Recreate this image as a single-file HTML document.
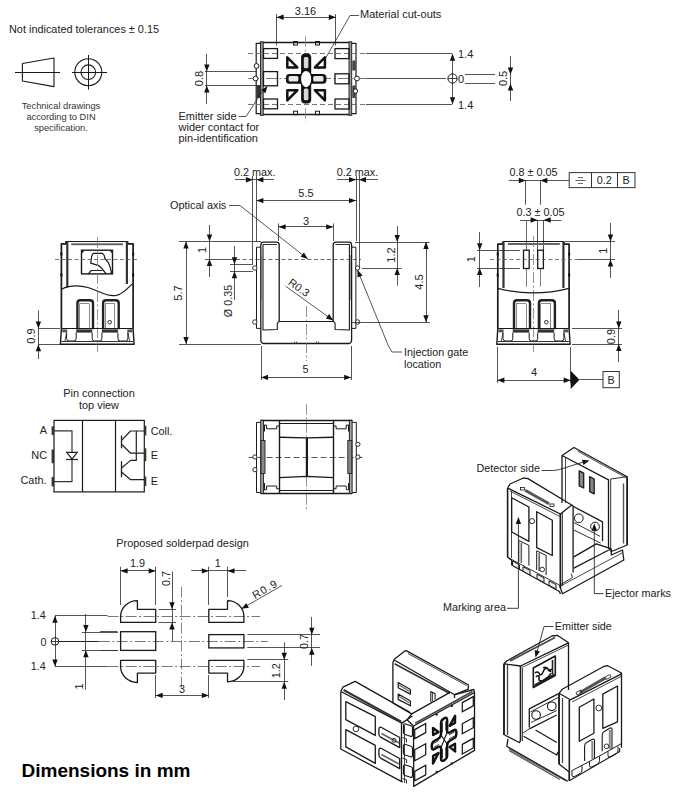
<!DOCTYPE html>
<html><head><meta charset="utf-8"><style>
html,body{margin:0;padding:0;background:#fff;}
svg{display:block;font-family:"Liberation Sans",sans-serif;}
</style></head><body>
<svg width="684" height="800" viewBox="0 0 684 800">
<rect width="684" height="800" fill="#fff"/>
<text x="9.00" y="33.00" font-size="10.9" text-anchor="start" fill="#222" font-weight="normal">Not indicated tolerances ± 0.15</text>
<polygon points="22.40,63.50 54.00,58.00 54.00,86.60 22.40,81.00" stroke="#1a1a1a" stroke-width="1.1" fill="none" stroke-linejoin="round"/>
<line x1="15.00" y1="72.50" x2="60.00" y2="72.50" stroke="#1a1a1a" stroke-width="1.0"/>
<circle cx="88.30" cy="72.20" r="13.50" stroke="#1a1a1a" stroke-width="1.1" fill="none"/>
<circle cx="88.30" cy="72.20" r="7.30" stroke="#1a1a1a" stroke-width="1.1" fill="none"/>
<line x1="72.00" y1="72.50" x2="107.00" y2="72.50" stroke="#1a1a1a" stroke-width="1.0"/>
<line x1="88.50" y1="55.00" x2="88.50" y2="89.60" stroke="#1a1a1a" stroke-width="1.0"/>
<text x="61.00" y="109.00" font-size="9.3" text-anchor="middle" fill="#333" font-weight="normal">Technical drawings</text>
<text x="61.00" y="120.00" font-size="9.3" text-anchor="middle" fill="#333" font-weight="normal">according to DIN</text>
<text x="61.00" y="131.00" font-size="9.3" text-anchor="middle" fill="#333" font-weight="normal">specification.</text>
<line x1="276.50" y1="14.00" x2="276.50" y2="45.50" stroke="#2a2a2a" stroke-width="0.8"/>
<line x1="335.50" y1="14.00" x2="335.50" y2="45.50" stroke="#2a2a2a" stroke-width="0.8"/>
<line x1="276.60" y1="17.50" x2="335.80" y2="17.50" stroke="#2a2a2a" stroke-width="0.8"/>
<polygon points="276.60,17.20 283.60,14.50 283.60,19.90" fill="#111"/>
<polygon points="335.80,17.20 328.80,19.90 328.80,14.50" fill="#111"/>
<text x="305.50" y="15.00" font-size="11" text-anchor="middle" fill="#222" font-weight="normal">3.16</text>
<text x="360.00" y="18.40" font-size="11" text-anchor="start" fill="#222" font-weight="normal">Material cut-outs</text>
<polyline points="359.00,15.50 350.00,15.50 320.00,68.00" stroke="#2a2a2a" stroke-width="0.8" fill="none" stroke-linejoin="round"/>
<polygon points="318.50,69.50 319.72,62.10 324.38,64.84" fill="#111"/>
<line x1="260.50" y1="42.50" x2="350.70" y2="42.50" stroke="#1a1a1a" stroke-width="1.3"/>
<line x1="260.50" y1="114.50" x2="350.70" y2="114.50" stroke="#1a1a1a" stroke-width="1.3"/>
<rect x="260.50" y="41.80" width="2.70" height="73.50" rx="0" stroke="#1a1a1a" stroke-width="0.9" fill="#999"/>
<polyline points="260.50,43.30 256.20,43.30 256.20,113.70 260.50,113.70" stroke="#1a1a1a" stroke-width="1.2" fill="none" stroke-linejoin="round"/>
<rect x="349.00" y="41.80" width="2.70" height="73.50" rx="0" stroke="#1a1a1a" stroke-width="0.9" fill="#999"/>
<polyline points="351.70,43.30 356.00,43.30 356.00,113.70 351.70,113.70" stroke="#1a1a1a" stroke-width="1.2" fill="none" stroke-linejoin="round"/>
<rect x="256.60" y="85.00" width="3.60" height="13.00" rx="0" stroke="#1a1a1a" stroke-width="0" fill="#333"/>
<rect x="352.30" y="60.50" width="3.20" height="10.00" rx="0" stroke="#1a1a1a" stroke-width="0" fill="#444"/>
<rect x="352.30" y="85.50" width="3.20" height="12.50" rx="0" stroke="#1a1a1a" stroke-width="0" fill="#444"/>
<line x1="248.00" y1="53.50" x2="366.00" y2="53.50" stroke="#666" stroke-width="0.9" stroke-dasharray="5 3"/>
<line x1="248.00" y1="104.50" x2="366.00" y2="104.50" stroke="#666" stroke-width="0.9" stroke-dasharray="5 3"/>
<line x1="248.00" y1="78.50" x2="366.00" y2="78.50" stroke="#666" stroke-width="0.9" stroke-dasharray="11 2.5 2 2.5"/>
<line x1="305.50" y1="36.00" x2="305.50" y2="122.00" stroke="#888" stroke-width="0.8" stroke-dasharray="11 2.5 2 2.5"/>
<rect x="263.50" y="48.60" width="14.00" height="9.80" rx="0" stroke="#1a1a1a" stroke-width="1.3" fill="none"/>
<rect x="263.50" y="71.60" width="14.00" height="14.20" rx="0" stroke="#1a1a1a" stroke-width="1.3" fill="none"/>
<rect x="263.50" y="99.00" width="14.00" height="9.80" rx="0" stroke="#1a1a1a" stroke-width="1.3" fill="none"/>
<rect x="335.00" y="48.60" width="14.00" height="10.00" rx="0" stroke="#1a1a1a" stroke-width="1.3" fill="none"/>
<rect x="335.00" y="73.80" width="14.00" height="10.00" rx="0" stroke="#1a1a1a" stroke-width="1.3" fill="none"/>
<rect x="335.00" y="99.00" width="14.00" height="10.00" rx="0" stroke="#1a1a1a" stroke-width="1.3" fill="none"/>
<rect x="293.50" y="41.50" width="4.00" height="3.50" rx="0" stroke="#1a1a1a" stroke-width="1.0" fill="none"/>
<rect x="293.50" y="111.20" width="4.00" height="3.50" rx="0" stroke="#1a1a1a" stroke-width="1.0" fill="none"/>
<rect x="315.50" y="41.50" width="4.00" height="3.50" rx="0" stroke="#1a1a1a" stroke-width="1.0" fill="none"/>
<rect x="315.50" y="111.20" width="4.00" height="3.50" rx="0" stroke="#1a1a1a" stroke-width="1.0" fill="none"/>
<rect x="301.1" y="53.4" width="10.1" height="50.2" rx="4" fill="#111"/>
<rect x="285.9" y="74" width="40.5" height="9.8" rx="3.5" fill="#111"/>
<ellipse cx="306.1" cy="78.9" rx="6.4" ry="9.6" fill="#111"/>
<rect x="303.8" y="57" width="4.6" height="11.3" rx="1.5" fill="#d8d8d8"/>
<rect x="303.8" y="88.6" width="4.6" height="11.6" rx="1.5" fill="#d8d8d8"/>
<rect x="288.6" y="76.1" width="9.8" height="5.4" rx="1.5" fill="#e8e8e8"/>
<rect x="313.2" y="76.1" width="10.3" height="5.4" rx="1.5" fill="#e8e8e8"/>
<ellipse cx="306.1" cy="79.1" rx="5.1" ry="8.1" fill="#fff"/>
<polygon points="287.30,57.30 287.30,67.40 297.30,67.40" stroke="#111" stroke-width="2.5" fill="#fff" stroke-linejoin="round"/>
<polygon points="324.90,57.30 324.90,67.40 314.90,67.40" stroke="#111" stroke-width="2.5" fill="#fff" stroke-linejoin="round"/>
<polygon points="287.30,100.40 287.30,90.30 297.30,90.30" stroke="#111" stroke-width="2.5" fill="#fff" stroke-linejoin="round"/>
<polygon points="324.90,100.40 324.90,90.30 314.90,90.30" stroke="#111" stroke-width="2.5" fill="#fff" stroke-linejoin="round"/>
<circle cx="256.50" cy="66.00" r="2.40" stroke="#1a1a1a" stroke-width="1.0" fill="#fff"/>
<circle cx="255.60" cy="78.50" r="2.40" stroke="#1a1a1a" stroke-width="1.0" fill="#fff"/>
<circle cx="357.00" cy="78.50" r="2.40" stroke="#1a1a1a" stroke-width="1.0" fill="#fff"/>
<circle cx="355.40" cy="91.10" r="2.20" stroke="#1a1a1a" stroke-width="1.0" fill="#fff"/>
<line x1="205.00" y1="71.50" x2="256.30" y2="71.50" stroke="#2a2a2a" stroke-width="0.8"/>
<line x1="205.00" y1="85.50" x2="256.30" y2="85.50" stroke="#2a2a2a" stroke-width="0.8"/>
<line x1="206.50" y1="53.70" x2="206.50" y2="104.10" stroke="#2a2a2a" stroke-width="0.8"/>
<polygon points="206.80,71.60 204.10,64.60 209.50,64.60" fill="#111"/>
<polygon points="206.80,85.50 209.50,92.50 204.10,92.50" fill="#111"/>
<text x="202.50" y="78.50" font-size="11" text-anchor="middle" fill="#222" font-weight="normal" transform="rotate(-90 202.50 78.50)">0.8</text>
<text x="178.50" y="119.60" font-size="11" text-anchor="start" fill="#222" font-weight="normal">Emitter side</text>
<text x="178.50" y="130.70" font-size="11" text-anchor="start" fill="#222" font-weight="normal">wider contact for</text>
<text x="178.50" y="141.80" font-size="11" text-anchor="start" fill="#222" font-weight="normal">pin-identification</text>
<polyline points="238.70,116.50 246.00,116.50 262.00,92.00" stroke="#2a2a2a" stroke-width="0.8" fill="none" stroke-linejoin="round"/>
<polygon points="267.50,86.00 265.46,93.22 261.14,89.98" fill="#111"/>
<line x1="366.00" y1="53.50" x2="452.00" y2="53.50" stroke="#2a2a2a" stroke-width="0.8"/>
<line x1="366.00" y1="104.50" x2="452.00" y2="104.50" stroke="#2a2a2a" stroke-width="0.8"/>
<line x1="366.00" y1="78.50" x2="446.00" y2="78.50" stroke="#2a2a2a" stroke-width="0.8"/>
<line x1="452.50" y1="53.80" x2="452.50" y2="104.20" stroke="#2a2a2a" stroke-width="0.8"/>
<polygon points="452.50,53.80 455.20,60.80 449.80,60.80" fill="#111"/>
<polygon points="452.50,104.20 449.80,97.20 455.20,97.20" fill="#111"/>
<circle cx="452.50" cy="78.50" r="4.60" stroke="#1a1a1a" stroke-width="1.0" fill="#fff"/>
<line x1="447.90" y1="78.50" x2="457.10" y2="78.50" stroke="#1a1a1a" stroke-width="0.8"/>
<line x1="452.50" y1="73.90" x2="452.50" y2="83.10" stroke="#1a1a1a" stroke-width="0.8"/>
<text x="458.00" y="58.00" font-size="11" text-anchor="start" fill="#222" font-weight="normal">1.4</text>
<text x="458.00" y="108.50" font-size="11" text-anchor="start" fill="#222" font-weight="normal">1.4</text>
<text x="458.00" y="82.50" font-size="11" text-anchor="start" fill="#222" font-weight="normal">0</text>
<line x1="465.00" y1="74.50" x2="495.00" y2="74.50" stroke="#2a2a2a" stroke-width="0.8"/>
<line x1="465.00" y1="83.50" x2="495.00" y2="83.50" stroke="#2a2a2a" stroke-width="0.8"/>
<line x1="510.50" y1="56.00" x2="510.50" y2="101.00" stroke="#2a2a2a" stroke-width="0.8"/>
<polygon points="510.50,74.50 507.80,67.50 513.20,67.50" fill="#111"/>
<polygon points="510.50,83.50 513.20,90.50 507.80,90.50" fill="#111"/>
<text x="507.00" y="78.40" font-size="11" text-anchor="middle" fill="#222" font-weight="normal" transform="rotate(-90 507.00 78.40)">0.5</text>
<line x1="66.00" y1="241.50" x2="127.50" y2="241.50" stroke="#1a1a1a" stroke-width="1.2"/>
<line x1="71.20" y1="244.20" x2="123.00" y2="244.20" stroke="#666" stroke-width="2.0"/>
<polyline points="66.00,241.00 66.00,243.90 61.40,243.90 61.40,328.40" stroke="#1a1a1a" stroke-width="1.7" fill="none" stroke-linejoin="round"/>
<polyline points="127.50,241.00 127.50,243.90 133.10,243.90 133.10,328.40" stroke="#1a1a1a" stroke-width="1.7" fill="none" stroke-linejoin="round"/>
<line x1="67.30" y1="241.00" x2="67.30" y2="287.50" stroke="#333" stroke-width="2.2"/>
<line x1="126.90" y1="241.00" x2="126.90" y2="284.00" stroke="#333" stroke-width="2.2"/>
<line x1="61.40" y1="252.50" x2="61.40" y2="255.50" stroke="#1a1a1a" stroke-width="2.2"/>
<line x1="133.10" y1="252.50" x2="133.10" y2="255.50" stroke="#1a1a1a" stroke-width="2.2"/>
<line x1="61.40" y1="273.50" x2="61.40" y2="276.50" stroke="#1a1a1a" stroke-width="2.2"/>
<line x1="133.10" y1="273.50" x2="133.10" y2="276.50" stroke="#1a1a1a" stroke-width="2.2"/>
<rect x="81.50" y="250.20" width="31.00" height="23.70" rx="0" stroke="#1a1a1a" stroke-width="1.4" fill="none"/>
<polygon points="81.5,250.2 85.0,250.2 81.5,253.7" fill="#222"/>
<polygon points="112.5,250.2 109.0,250.2 112.5,253.7" fill="#222"/>
<polygon points="112.5,273.9 109.0,273.9 112.5,270.4" fill="#222"/>
<path d="M112.2,273.2 L111,270.8 L110.1,267.1 L108.5,262.8 L104.9,258.5 L104.2,255.4 L102.4,253.3 H93.2 L91.7,256 L90.7,263.1 L98.1,265.3 L101.8,268.3 L106.1,273.9" stroke="#1a1a1a" stroke-width="1.2" fill="none" stroke-linejoin="round" />
<path d="M88.3,273.9 L91.3,270.5 H102.4" stroke="#1a1a1a" stroke-width="1.2" fill="none" stroke-linejoin="round" />
<path d="M61.6,289.2 C70,285 78,285 88,287.5 C100,291 106,297 116,295.5 C124,294 128,287 133.1,283.4" stroke="#1a1a1a" stroke-width="1.2" fill="none" stroke-linejoin="round" />
<line x1="55.00" y1="259.50" x2="139.00" y2="259.50" stroke="#555" stroke-width="0.8" stroke-dasharray="4 2.5"/>
<line x1="97.50" y1="237.00" x2="97.50" y2="352.00" stroke="#777" stroke-width="0.8" stroke-dasharray="11 2.5 2 2.5"/>
<path d="M77.4,329.2 V303.2 q0,-3 3,-3 h9.6 q3,0 3,3 V329.2" stroke="#222" stroke-width="2.4" fill="none" stroke-linejoin="round" />
<line x1="79.50" y1="303.70" x2="79.50" y2="329.20" stroke="#555" stroke-width="0.7"/>
<line x1="89.50" y1="303.70" x2="89.50" y2="329.20" stroke="#555" stroke-width="0.7"/>
<line x1="79.40" y1="303.50" x2="89.00" y2="303.50" stroke="#555" stroke-width="0.7"/>
<path d="M103.10000000000001,329.2 V303.2 q0,-3 3,-3 h9.6 q3,0 3,3 V329.2" stroke="#222" stroke-width="2.4" fill="none" stroke-linejoin="round" />
<line x1="105.50" y1="303.70" x2="105.50" y2="329.20" stroke="#555" stroke-width="0.7"/>
<line x1="114.50" y1="303.70" x2="114.50" y2="329.20" stroke="#555" stroke-width="0.7"/>
<line x1="105.10" y1="303.50" x2="114.70" y2="303.50" stroke="#555" stroke-width="0.7"/>
<circle cx="109.70" cy="322.20" r="1.80" stroke="#1a1a1a" stroke-width="0.9" fill="none"/>
<line x1="61.40" y1="328.50" x2="133.10" y2="328.50" stroke="#1a1a1a" stroke-width="1.0"/>
<rect x="62.20" y="329.40" width="5.00" height="3.00" rx="0" stroke="#1a1a1a" stroke-width="0" fill="#555"/>
<rect x="127.30" y="329.40" width="5.00" height="3.00" rx="0" stroke="#1a1a1a" stroke-width="0" fill="#555"/>
<rect x="76.20" y="329.40" width="16.00" height="3.20" rx="0" stroke="#1a1a1a" stroke-width="0" fill="#333"/>
<rect x="101.90" y="329.40" width="16.00" height="3.20" rx="0" stroke="#1a1a1a" stroke-width="0" fill="#333"/>
<path d="M66.6,332.6 V338.6 q0,2.4 2.4,2.4 H73.8 q2.4,0 2.4,-2.4 V332.6" stroke="#1a1a1a" stroke-width="1.0" fill="none" stroke-linejoin="round" />
<path d="M92.2,332.6 V338.6 q0,2.4 2.4,2.4 H99.5 q2.4,0 2.4,-2.4 V332.6" stroke="#1a1a1a" stroke-width="1.0" fill="none" stroke-linejoin="round" />
<path d="M117.9,332.6 V338.6 q0,2.4 2.4,2.4 H125.49999999999999 q2.4,0 2.4,-2.4 V332.6" stroke="#1a1a1a" stroke-width="1.0" fill="none" stroke-linejoin="round" />
<polyline points="61.40,328.40 60.40,344.20 134.10,344.20 133.10,328.40" stroke="#1a1a1a" stroke-width="1.4" fill="none" stroke-linejoin="round"/>
<line x1="61.40" y1="341.50" x2="133.10" y2="341.50" stroke="#333" stroke-width="1.0"/>
<polyline points="66.60,332.60 64.90,341.00" stroke="#1a1a1a" stroke-width="0.8" fill="none" stroke-linejoin="round"/>
<polyline points="127.90,332.60 129.60,341.00" stroke="#1a1a1a" stroke-width="0.8" fill="none" stroke-linejoin="round"/>
<line x1="38.00" y1="328.50" x2="60.00" y2="328.50" stroke="#2a2a2a" stroke-width="0.8"/>
<line x1="38.00" y1="344.50" x2="60.00" y2="344.50" stroke="#2a2a2a" stroke-width="0.8"/>
<line x1="38.50" y1="310.40" x2="38.50" y2="359.00" stroke="#2a2a2a" stroke-width="0.8"/>
<polygon points="38.40,328.50 35.70,321.50 41.10,321.50" fill="#111"/>
<polygon points="38.40,344.20 41.10,351.20 35.70,351.20" fill="#111"/>
<text x="35.00" y="336.00" font-size="11" text-anchor="middle" fill="#222" font-weight="normal" transform="rotate(-90 35.00 336.00)">0.9</text>
<text x="234.00" y="176.00" font-size="10.8" text-anchor="start" fill="#222" font-weight="normal">0.2 max.</text>
<text x="336.80" y="176.00" font-size="10.8" text-anchor="start" fill="#222" font-weight="normal">0.2 max.</text>
<line x1="235.00" y1="179.50" x2="274.00" y2="179.50" stroke="#2a2a2a" stroke-width="0.8"/>
<polygon points="252.90,179.80 245.90,182.50 245.90,177.10" fill="#111"/>
<polygon points="256.40,179.80 263.40,177.10 263.40,182.50" fill="#111"/>
<line x1="337.00" y1="179.50" x2="378.00" y2="179.50" stroke="#2a2a2a" stroke-width="0.8"/>
<polygon points="356.00,179.80 349.00,182.50 349.00,177.10" fill="#111"/>
<polygon points="359.00,179.80 366.00,177.10 366.00,182.50" fill="#111"/>
<line x1="252.50" y1="176.00" x2="252.50" y2="264.30" stroke="#2a2a2a" stroke-width="0.8"/>
<line x1="256.50" y1="176.00" x2="256.50" y2="241.50" stroke="#2a2a2a" stroke-width="0.8"/>
<line x1="356.50" y1="176.00" x2="356.50" y2="241.00" stroke="#2a2a2a" stroke-width="0.8"/>
<line x1="359.50" y1="176.00" x2="359.50" y2="267.00" stroke="#2a2a2a" stroke-width="0.8"/>
<line x1="256.40" y1="200.50" x2="356.00" y2="200.50" stroke="#2a2a2a" stroke-width="0.8"/>
<polygon points="256.40,200.60 263.40,197.90 263.40,203.30" fill="#111"/>
<polygon points="356.00,200.60 349.00,203.30 349.00,197.90" fill="#111"/>
<text x="306.00" y="197.30" font-size="11" text-anchor="middle" fill="#222" font-weight="normal">5.5</text>
<line x1="278.50" y1="223.40" x2="278.50" y2="241.00" stroke="#2a2a2a" stroke-width="0.8"/>
<line x1="333.50" y1="223.40" x2="333.50" y2="241.00" stroke="#2a2a2a" stroke-width="0.8"/>
<line x1="278.60" y1="226.50" x2="333.20" y2="226.50" stroke="#2a2a2a" stroke-width="0.8"/>
<polygon points="278.60,226.90 285.60,224.20 285.60,229.60" fill="#111"/>
<polygon points="333.20,226.90 326.20,229.60 326.20,224.20" fill="#111"/>
<text x="306.00" y="224.60" font-size="11" text-anchor="middle" fill="#222" font-weight="normal">3</text>
<text x="170.00" y="208.50" font-size="10.9" text-anchor="start" fill="#222" font-weight="normal">Optical axis</text>
<polyline points="229.00,205.50 240.00,205.50 307.80,259.00" stroke="#2a2a2a" stroke-width="0.8" fill="none" stroke-linejoin="round"/>
<polygon points="307.80,259.00 300.63,256.78 303.98,252.54" fill="#111"/>
<polyline points="260.80,247.20 256.50,247.20 256.50,328.40 260.80,328.40" stroke="#1a1a1a" stroke-width="1.0" fill="none" stroke-linejoin="round"/>
<path d="M260.8,340 V245 Q260.8,242.2 263.6,242.2 H276.4 Q279.2,242.2 279.2,245 V321.2" stroke="#1a1a1a" stroke-width="1.3" fill="none" stroke-linejoin="round" />
<polyline points="263.00,244.30 263.00,330.00 277.30,329.50 277.30,323.40 279.20,321.20" stroke="#1a1a1a" stroke-width="1.1" fill="none" stroke-linejoin="round"/>
<line x1="263.00" y1="244.50" x2="277.00" y2="244.50" stroke="#1a1a1a" stroke-width="0.9"/>
<line x1="261.50" y1="255.00" x2="261.50" y2="300.00" stroke="#666" stroke-width="0.6"/>
<polyline points="351.60,247.20 355.90,247.20 355.90,328.40 351.60,328.40" stroke="#1a1a1a" stroke-width="1.0" fill="none" stroke-linejoin="round"/>
<path d="M351.59999999999997,340 V245 Q351.59999999999997,242.2 348.79999999999995,242.2 H336.0 Q333.2,242.2 333.2,245 V321.2" stroke="#1a1a1a" stroke-width="1.3" fill="none" stroke-linejoin="round" />
<polyline points="349.40,244.30 349.40,330.00 335.10,329.50 335.10,323.40 333.20,321.20" stroke="#1a1a1a" stroke-width="1.1" fill="none" stroke-linejoin="round"/>
<line x1="349.40" y1="244.50" x2="335.40" y2="244.50" stroke="#1a1a1a" stroke-width="0.9"/>
<line x1="350.50" y1="255.00" x2="350.50" y2="300.00" stroke="#666" stroke-width="0.6"/>
<line x1="279.20" y1="321.50" x2="333.20" y2="321.50" stroke="#1a1a1a" stroke-width="1.2"/>
<path d="M260.8,340 Q260.8,343.5 264.3,343.5 H348.1 Q351.6,343.5 351.6,340" stroke="#1a1a1a" stroke-width="1.3" fill="none" stroke-linejoin="round" />
<line x1="294.50" y1="341.50" x2="294.50" y2="343.50" stroke="#1a1a1a" stroke-width="0.7"/>
<line x1="296.50" y1="341.50" x2="296.50" y2="343.50" stroke="#1a1a1a" stroke-width="0.7"/>
<line x1="316.50" y1="341.50" x2="316.50" y2="343.50" stroke="#1a1a1a" stroke-width="0.7"/>
<line x1="318.50" y1="341.50" x2="318.50" y2="343.50" stroke="#1a1a1a" stroke-width="0.7"/>
<circle cx="254.80" cy="268.00" r="2.20" stroke="#1a1a1a" stroke-width="0.9" fill="#fff"/>
<circle cx="357.60" cy="268.00" r="2.20" stroke="#1a1a1a" stroke-width="0.9" fill="#fff"/>
<circle cx="254.80" cy="322.00" r="2.20" stroke="#1a1a1a" stroke-width="0.9" fill="#fff"/>
<circle cx="357.60" cy="322.00" r="2.20" stroke="#1a1a1a" stroke-width="0.9" fill="#fff"/>
<line x1="236.00" y1="259.50" x2="361.00" y2="259.50" stroke="#444" stroke-width="0.8" stroke-dasharray="4 2.5"/>
<line x1="306.50" y1="306.00" x2="306.50" y2="361.00" stroke="#777" stroke-width="0.8" stroke-dasharray="11 2.5 2 2.5"/>
<line x1="179.00" y1="241.50" x2="261.00" y2="241.50" stroke="#2a2a2a" stroke-width="0.8"/>
<line x1="179.00" y1="344.50" x2="261.00" y2="344.50" stroke="#2a2a2a" stroke-width="0.8"/>
<line x1="186.50" y1="241.50" x2="186.50" y2="344.00" stroke="#2a2a2a" stroke-width="0.8"/>
<polygon points="186.00,241.50 188.70,248.50 183.30,248.50" fill="#111"/>
<polygon points="186.00,344.00 183.30,337.00 188.70,337.00" fill="#111"/>
<text x="182.00" y="293.00" font-size="11" text-anchor="middle" fill="#222" font-weight="normal" transform="rotate(-90 182.00 293.00)">5.7</text>
<line x1="205.00" y1="259.50" x2="236.00" y2="259.50" stroke="#2a2a2a" stroke-width="0.8"/>
<line x1="209.50" y1="225.00" x2="209.50" y2="277.00" stroke="#2a2a2a" stroke-width="0.8"/>
<polygon points="209.50,241.50 206.80,234.50 212.20,234.50" fill="#111"/>
<polygon points="209.50,259.00 212.20,266.00 206.80,266.00" fill="#111"/>
<text x="206.00" y="250.00" font-size="11" text-anchor="middle" fill="#222" font-weight="normal" transform="rotate(-90 206.00 250.00)">1</text>
<line x1="230.00" y1="264.50" x2="252.90" y2="264.50" stroke="#2a2a2a" stroke-width="0.8"/>
<line x1="230.00" y1="271.50" x2="252.90" y2="271.50" stroke="#2a2a2a" stroke-width="0.8"/>
<line x1="234.50" y1="246.00" x2="234.50" y2="300.00" stroke="#2a2a2a" stroke-width="0.8"/>
<polygon points="234.50,264.30 231.80,257.30 237.20,257.30" fill="#111"/>
<polygon points="234.50,271.30 237.20,278.30 231.80,278.30" fill="#111"/>
<text x="232.00" y="301.00" font-size="10.8" text-anchor="middle" fill="#222" font-weight="normal" transform="rotate(-90 232.00 301.00)">Ø 0.35</text>
<text x="287.50" y="284.00" font-size="10.8" text-anchor="start" fill="#222" font-weight="normal" transform="rotate(35.7 287.50 284.00)">R0.3</text>
<polyline points="285.60,286.20 333.20,320.40" stroke="#2a2a2a" stroke-width="0.8" fill="none" stroke-linejoin="round"/>
<polygon points="333.20,320.40 325.94,318.50 329.10,314.12" fill="#111"/>
<line x1="261.50" y1="346.00" x2="261.50" y2="380.00" stroke="#2a2a2a" stroke-width="0.8"/>
<line x1="351.50" y1="346.00" x2="351.50" y2="380.00" stroke="#2a2a2a" stroke-width="0.8"/>
<line x1="261.00" y1="377.50" x2="351.20" y2="377.50" stroke="#2a2a2a" stroke-width="0.8"/>
<polygon points="261.00,377.40 268.00,374.70 268.00,380.10" fill="#111"/>
<polygon points="351.20,377.40 344.20,380.10 344.20,374.70" fill="#111"/>
<text x="305.60" y="372.70" font-size="11" text-anchor="middle" fill="#222" font-weight="normal">5</text>
<line x1="355.00" y1="242.50" x2="429.60" y2="242.50" stroke="#2a2a2a" stroke-width="0.8"/>
<line x1="362.00" y1="268.50" x2="401.60" y2="268.50" stroke="#2a2a2a" stroke-width="0.8"/>
<line x1="397.50" y1="226.00" x2="397.50" y2="285.60" stroke="#2a2a2a" stroke-width="0.8"/>
<polygon points="397.20,242.00 394.50,235.00 399.90,235.00" fill="#111"/>
<polygon points="397.20,268.00 399.90,275.00 394.50,275.00" fill="#111"/>
<text x="394.50" y="255.00" font-size="11" text-anchor="middle" fill="#222" font-weight="normal" transform="rotate(-90 394.50 255.00)">1.2</text>
<line x1="352.00" y1="322.50" x2="430.00" y2="322.50" stroke="#2a2a2a" stroke-width="0.8"/>
<line x1="426.50" y1="242.00" x2="426.50" y2="322.30" stroke="#2a2a2a" stroke-width="0.8"/>
<polygon points="426.00,242.00 428.70,249.00 423.30,249.00" fill="#111"/>
<polygon points="426.00,322.30 423.30,315.30 428.70,315.30" fill="#111"/>
<text x="422.50" y="282.00" font-size="11" text-anchor="middle" fill="#222" font-weight="normal" transform="rotate(-90 422.50 282.00)">4.5</text>
<polyline points="357.50,270.00 388.00,345.00 392.00,352.00 402.00,352.00" stroke="#2a2a2a" stroke-width="0.8" fill="none" stroke-linejoin="round"/>
<polygon points="357.50,270.00 362.61,275.50 357.59,277.50" fill="#111"/>
<text x="404.00" y="356.00" font-size="10.8" text-anchor="start" fill="#222" font-weight="normal">Injection gate</text>
<text x="404.00" y="367.50" font-size="10.8" text-anchor="start" fill="#222" font-weight="normal">location</text>
<text x="509.50" y="176.30" font-size="10.8" text-anchor="start" fill="#222" font-weight="normal">0.8 ± 0.05</text>
<line x1="508.70" y1="180.50" x2="569.20" y2="180.50" stroke="#2a2a2a" stroke-width="0.8"/>
<polygon points="525.80,180.50 518.80,183.20 518.80,177.80" fill="#111"/>
<polygon points="540.30,180.50 547.30,177.80 547.30,183.20" fill="#111"/>
<line x1="525.50" y1="180.00" x2="525.50" y2="204.70" stroke="#2a2a2a" stroke-width="0.8"/>
<line x1="540.50" y1="180.00" x2="540.50" y2="204.70" stroke="#2a2a2a" stroke-width="0.8"/>
<rect x="569.20" y="172.60" width="65.80" height="15.00" rx="0" stroke="#333" stroke-width="1.0" fill="none"/>
<line x1="591.50" y1="172.60" x2="591.50" y2="187.60" stroke="#333" stroke-width="1.0"/>
<line x1="617.50" y1="172.60" x2="617.50" y2="187.60" stroke="#333" stroke-width="1.0"/>
<line x1="578.00" y1="177.50" x2="583.00" y2="177.50" stroke="#444" stroke-width="0.8"/>
<line x1="575.50" y1="180.50" x2="585.50" y2="180.50" stroke="#444" stroke-width="0.8"/>
<line x1="578.00" y1="183.50" x2="583.00" y2="183.50" stroke="#444" stroke-width="0.8"/>
<text x="604.30" y="184.30" font-size="10.8" text-anchor="middle" fill="#222" font-weight="normal">0.2</text>
<text x="626.00" y="184.30" font-size="10.8" text-anchor="middle" fill="#222" font-weight="normal">B</text>
<text x="516.60" y="215.80" font-size="10.8" text-anchor="start" fill="#222" font-weight="normal">0.3 ± 0.05</text>
<line x1="520.00" y1="220.50" x2="561.30" y2="220.50" stroke="#2a2a2a" stroke-width="0.8"/>
<polygon points="537.60,220.00 530.60,222.70 530.60,217.30" fill="#111"/>
<polygon points="543.70,220.00 550.70,217.30 550.70,222.70" fill="#111"/>
<line x1="537.50" y1="220.00" x2="537.50" y2="250.00" stroke="#2a2a2a" stroke-width="0.8"/>
<line x1="543.50" y1="220.00" x2="543.50" y2="250.00" stroke="#2a2a2a" stroke-width="0.8"/>
<line x1="526.50" y1="221.00" x2="526.50" y2="250.00" stroke="#2a2a2a" stroke-width="0.7"/>
<line x1="502.80" y1="241.50" x2="564.10" y2="241.50" stroke="#1a1a1a" stroke-width="1.2"/>
<line x1="507.80" y1="244.10" x2="559.80" y2="244.10" stroke="#666" stroke-width="2.0"/>
<polyline points="502.80,241.70 502.80,244.10 497.80,244.10 497.80,328.40" stroke="#1a1a1a" stroke-width="1.7" fill="none" stroke-linejoin="round"/>
<polyline points="564.10,241.70 564.10,244.10 569.10,244.10 569.10,328.40" stroke="#1a1a1a" stroke-width="1.7" fill="none" stroke-linejoin="round"/>
<line x1="503.50" y1="241.70" x2="503.50" y2="288.00" stroke="#333" stroke-width="2.2"/>
<line x1="563.40" y1="241.70" x2="563.40" y2="288.00" stroke="#333" stroke-width="2.2"/>
<line x1="497.80" y1="252.50" x2="497.80" y2="255.50" stroke="#1a1a1a" stroke-width="2.2"/>
<line x1="569.10" y1="252.50" x2="569.10" y2="255.50" stroke="#1a1a1a" stroke-width="2.2"/>
<line x1="497.80" y1="273.50" x2="497.80" y2="276.50" stroke="#1a1a1a" stroke-width="2.2"/>
<line x1="569.10" y1="273.50" x2="569.10" y2="276.50" stroke="#1a1a1a" stroke-width="2.2"/>
<rect x="523.50" y="250.20" width="5.70" height="18.30" rx="0" stroke="#1a1a1a" stroke-width="1.3" fill="none"/>
<rect x="537.70" y="250.20" width="5.70" height="18.30" rx="0" stroke="#1a1a1a" stroke-width="1.3" fill="none"/>
<line x1="526.50" y1="268.50" x2="526.50" y2="286.60" stroke="#444" stroke-width="0.7"/>
<line x1="540.50" y1="268.50" x2="540.50" y2="286.60" stroke="#444" stroke-width="0.7"/>
<line x1="490.00" y1="259.50" x2="578.00" y2="259.50" stroke="#555" stroke-width="0.8" stroke-dasharray="4 2.5"/>
<line x1="533.50" y1="236.00" x2="533.50" y2="352.00" stroke="#777" stroke-width="0.8" stroke-dasharray="11 2.5 2 2.5"/>
<path d="M497.8,288.4 Q533.4,297.5 569.1,288.4" stroke="#1a1a1a" stroke-width="1.2" fill="none" stroke-linejoin="round" />
<path d="M514.0,329.2 V303.2 q0,-3 3,-3 h10.00000000000009 q3,0 3,3 V329.2" stroke="#222" stroke-width="2.4" fill="none" stroke-linejoin="round" />
<line x1="516.50" y1="303.70" x2="516.50" y2="329.20" stroke="#555" stroke-width="0.7"/>
<line x1="526.50" y1="303.70" x2="526.50" y2="329.20" stroke="#555" stroke-width="0.7"/>
<line x1="516.00" y1="303.50" x2="526.00" y2="303.50" stroke="#555" stroke-width="0.7"/>
<path d="M538.9000000000001,329.2 V303.2 q0,-3 3,-3 h9.999999999999977 q3,0 3,3 V329.2" stroke="#222" stroke-width="2.4" fill="none" stroke-linejoin="round" />
<line x1="540.50" y1="303.70" x2="540.50" y2="329.20" stroke="#555" stroke-width="0.7"/>
<line x1="550.50" y1="303.70" x2="550.50" y2="329.20" stroke="#555" stroke-width="0.7"/>
<line x1="540.90" y1="303.50" x2="550.90" y2="303.50" stroke="#555" stroke-width="0.7"/>
<circle cx="546.30" cy="322.20" r="1.80" stroke="#1a1a1a" stroke-width="0.9" fill="none"/>
<line x1="497.80" y1="328.50" x2="569.10" y2="328.50" stroke="#1a1a1a" stroke-width="1.0"/>
<rect x="498.60" y="329.40" width="5.00" height="3.00" rx="0" stroke="#1a1a1a" stroke-width="0" fill="#555"/>
<rect x="563.30" y="329.40" width="5.00" height="3.00" rx="0" stroke="#1a1a1a" stroke-width="0" fill="#555"/>
<rect x="512.80" y="329.40" width="16.40" height="3.20" rx="0" stroke="#1a1a1a" stroke-width="0" fill="#333"/>
<rect x="537.70" y="329.40" width="16.40" height="3.20" rx="0" stroke="#1a1a1a" stroke-width="0" fill="#333"/>
<path d="M503.0,332.6 V338.6 q0,2.4 2.4,2.4 H510.4 q2.4,0 2.4,-2.4 V332.6" stroke="#1a1a1a" stroke-width="1.0" fill="none" stroke-linejoin="round" />
<path d="M529.2,332.6 V338.6 q0,2.4 2.4,2.4 H535.3000000000001 q2.4,0 2.4,-2.4 V332.6" stroke="#1a1a1a" stroke-width="1.0" fill="none" stroke-linejoin="round" />
<path d="M554.1,332.6 V338.6 q0,2.4 2.4,2.4 H561.5 q2.4,0 2.4,-2.4 V332.6" stroke="#1a1a1a" stroke-width="1.0" fill="none" stroke-linejoin="round" />
<polyline points="497.80,328.40 496.80,344.20 570.10,344.20 569.10,328.40" stroke="#1a1a1a" stroke-width="1.4" fill="none" stroke-linejoin="round"/>
<line x1="497.80" y1="341.50" x2="569.10" y2="341.50" stroke="#333" stroke-width="1.0"/>
<polyline points="503.00,332.60 501.30,341.00" stroke="#1a1a1a" stroke-width="0.8" fill="none" stroke-linejoin="round"/>
<polyline points="563.90,332.60 565.60,341.00" stroke="#1a1a1a" stroke-width="0.8" fill="none" stroke-linejoin="round"/>
<line x1="477.00" y1="250.50" x2="520.00" y2="250.50" stroke="#2a2a2a" stroke-width="0.8"/>
<line x1="477.00" y1="268.50" x2="520.00" y2="268.50" stroke="#2a2a2a" stroke-width="0.8"/>
<line x1="479.50" y1="232.00" x2="479.50" y2="287.00" stroke="#2a2a2a" stroke-width="0.8"/>
<polygon points="479.70,250.30 477.00,243.30 482.40,243.30" fill="#111"/>
<polygon points="479.70,268.00 482.40,275.00 477.00,275.00" fill="#111"/>
<text x="475.50" y="259.30" font-size="11" text-anchor="middle" fill="#222" font-weight="normal" transform="rotate(-90 475.50 259.30)">1</text>
<line x1="565.00" y1="241.50" x2="615.00" y2="241.50" stroke="#2a2a2a" stroke-width="0.8"/>
<line x1="578.00" y1="259.50" x2="615.00" y2="259.50" stroke="#2a2a2a" stroke-width="0.8"/>
<line x1="610.50" y1="223.00" x2="610.50" y2="278.00" stroke="#2a2a2a" stroke-width="0.8"/>
<polygon points="610.50,241.60 607.80,234.60 613.20,234.60" fill="#111"/>
<polygon points="610.50,259.50 613.20,266.50 607.80,266.50" fill="#111"/>
<text x="607.00" y="250.70" font-size="11" text-anchor="middle" fill="#222" font-weight="normal" transform="rotate(-90 607.00 250.70)">1</text>
<line x1="572.00" y1="328.50" x2="622.00" y2="328.50" stroke="#2a2a2a" stroke-width="0.8"/>
<line x1="572.00" y1="344.50" x2="622.00" y2="344.50" stroke="#2a2a2a" stroke-width="0.8"/>
<line x1="618.50" y1="310.00" x2="618.50" y2="362.00" stroke="#2a2a2a" stroke-width="0.8"/>
<polygon points="618.80,328.50 616.10,321.50 621.50,321.50" fill="#111"/>
<polygon points="618.80,344.10 621.50,351.10 616.10,351.10" fill="#111"/>
<text x="614.50" y="336.50" font-size="11" text-anchor="middle" fill="#222" font-weight="normal" transform="rotate(-90 614.50 336.50)">0.9</text>
<line x1="497.50" y1="347.00" x2="497.50" y2="383.00" stroke="#2a2a2a" stroke-width="0.8"/>
<line x1="570.50" y1="347.00" x2="570.50" y2="383.00" stroke="#2a2a2a" stroke-width="0.8"/>
<line x1="497.40" y1="380.50" x2="570.70" y2="380.50" stroke="#2a2a2a" stroke-width="0.8"/>
<polygon points="497.40,380.20 504.40,377.50 504.40,382.90" fill="#111"/>
<polygon points="570.70,380.20 563.70,382.90 563.70,377.50" fill="#111"/>
<text x="534.00" y="375.70" font-size="11" text-anchor="middle" fill="#222" font-weight="normal">4</text>
<polygon points="570.7,370.7 570.7,388.9 579.5,379.8" fill="#111"/>
<line x1="579.50" y1="379.50" x2="603.00" y2="379.50" stroke="#2a2a2a" stroke-width="0.8"/>
<rect x="603.00" y="371.50" width="16.30" height="16.20" rx="0" stroke="#333" stroke-width="1.0" fill="none"/>
<text x="611.20" y="384.00" font-size="10.8" text-anchor="middle" fill="#222" font-weight="normal">B</text>
<text x="99.00" y="397.00" font-size="10.9" text-anchor="middle" fill="#222" font-weight="normal">Pin connection</text>
<text x="99.00" y="409.20" font-size="10.9" text-anchor="middle" fill="#222" font-weight="normal">top view</text>
<rect x="54.00" y="420.40" width="90.30" height="71.50" rx="0" stroke="#1a1a1a" stroke-width="1.2" fill="none"/>
<line x1="82.50" y1="420.40" x2="82.50" y2="491.90" stroke="#1a1a1a" stroke-width="1.2"/>
<line x1="115.50" y1="420.40" x2="115.50" y2="491.90" stroke="#1a1a1a" stroke-width="1.2"/>
<rect x="51.60" y="426.40" width="2.40" height="8.60" rx="0" stroke="#1a1a1a" stroke-width="0" fill="#333"/>
<rect x="51.60" y="449.50" width="2.40" height="13.80" rx="0" stroke="#1a1a1a" stroke-width="0" fill="#333"/>
<rect x="51.60" y="477.00" width="2.40" height="9.30" rx="0" stroke="#1a1a1a" stroke-width="0" fill="#333"/>
<rect x="144.30" y="425.80" width="2.00" height="9.70" rx="0" stroke="#1a1a1a" stroke-width="0" fill="#333"/>
<rect x="144.30" y="448.30" width="2.00" height="12.90" rx="0" stroke="#1a1a1a" stroke-width="0" fill="#333"/>
<rect x="144.30" y="476.50" width="2.00" height="9.50" rx="0" stroke="#1a1a1a" stroke-width="0" fill="#333"/>
<polyline points="54.00,430.80 72.00,430.80 72.00,481.70 54.00,481.70" stroke="#333" stroke-width="1.2" fill="none" stroke-linejoin="round"/>
<polygon points="66.7,452.4 77.2,452.4 72,459" fill="#fff" stroke="#222" stroke-width="1.2"/>
<line x1="66.00" y1="459.50" x2="78.00" y2="459.50" stroke="#222" stroke-width="1.2"/>
<text x="47.00" y="434.30" font-size="10.9" text-anchor="end" fill="#222" font-weight="normal">A</text>
<text x="47.00" y="458.70" font-size="10.9" text-anchor="end" fill="#222" font-weight="normal">NC</text>
<text x="46.50" y="484.30" font-size="10.9" text-anchor="end" fill="#222" font-weight="normal">Cath.</text>
<line x1="121.50" y1="435.50" x2="121.50" y2="448.30" stroke="#222" stroke-width="1.3"/>
<polyline points="121.50,440.30 130.60,431.00 144.30,431.00" stroke="#222" stroke-width="1.2" fill="none" stroke-linejoin="round"/>
<polyline points="121.50,444.30 130.60,453.20 144.30,453.20" stroke="#222" stroke-width="1.2" fill="none" stroke-linejoin="round"/>
<polyline points="136.30,431.00 136.30,460.40 130.60,460.40 121.50,468.00" stroke="#222" stroke-width="1.2" fill="none" stroke-linejoin="round"/>
<line x1="121.50" y1="461.20" x2="121.50" y2="477.30" stroke="#222" stroke-width="1.3"/>
<polyline points="121.50,472.00 130.60,479.70 144.30,479.70" stroke="#222" stroke-width="1.2" fill="none" stroke-linejoin="round"/>
<text x="150.70" y="434.70" font-size="10.9" text-anchor="start" fill="#222" font-weight="normal">Coll.</text>
<text x="150.70" y="458.80" font-size="10.9" text-anchor="start" fill="#222" font-weight="normal">E</text>
<text x="150.70" y="484.50" font-size="10.9" text-anchor="start" fill="#222" font-weight="normal">E</text>
<line x1="306.50" y1="403.70" x2="306.50" y2="509.40" stroke="#888" stroke-width="0.9" stroke-dasharray="11 2.5 2 2.5"/>
<line x1="248.60" y1="457.50" x2="363.00" y2="457.50" stroke="#444" stroke-width="0.9" stroke-dasharray="6 3"/>
<line x1="260.70" y1="420.50" x2="352.10" y2="420.50" stroke="#1a1a1a" stroke-width="1.3"/>
<line x1="260.70" y1="493.50" x2="352.10" y2="493.50" stroke="#1a1a1a" stroke-width="1.3"/>
<line x1="279.30" y1="423.50" x2="333.50" y2="423.50" stroke="#1a1a1a" stroke-width="1.0"/>
<line x1="279.30" y1="490.50" x2="333.50" y2="490.50" stroke="#1a1a1a" stroke-width="1.0"/>
<polyline points="260.70,422.40 256.50,422.40 256.50,492.50 260.70,492.50" stroke="#1a1a1a" stroke-width="1.0" fill="none" stroke-linejoin="round"/>
<rect x="260.7" y="420.3" width="2.7" height="73.1" fill="#aaa" stroke="#222" stroke-width="1.0"/>
<line x1="279.50" y1="420.30" x2="279.50" y2="493.40" stroke="#1a1a1a" stroke-width="1.4"/>
<polyline points="263.90,425.10 266.60,425.10 266.60,428.80 276.70,428.80 276.70,426.00 279.30,426.00" stroke="#1a1a1a" stroke-width="1.0" fill="none" stroke-linejoin="round"/>
<polyline points="263.90,489.70 266.60,489.70 266.60,486.00 276.70,486.00 276.70,488.80 279.30,488.80" stroke="#1a1a1a" stroke-width="1.0" fill="none" stroke-linejoin="round"/>
<line x1="264.50" y1="425.00" x2="264.50" y2="431.50" stroke="#1a1a1a" stroke-width="1.0"/>
<line x1="264.50" y1="483.00" x2="264.50" y2="489.70" stroke="#1a1a1a" stroke-width="1.0"/>
<rect x="261" y="440.5" width="4" height="33" fill="#888" stroke="#222" stroke-width="0.9"/>
<polyline points="352.10,422.40 356.30,422.40 356.30,492.50 352.10,492.50" stroke="#1a1a1a" stroke-width="1.0" fill="none" stroke-linejoin="round"/>
<rect x="349.4" y="420.3" width="2.7" height="73.1" fill="#aaa" stroke="#222" stroke-width="1.0"/>
<line x1="333.50" y1="420.30" x2="333.50" y2="493.40" stroke="#1a1a1a" stroke-width="1.4"/>
<polyline points="348.90,425.10 346.20,425.10 346.20,428.80 336.10,428.80 336.10,426.00 333.50,426.00" stroke="#1a1a1a" stroke-width="1.0" fill="none" stroke-linejoin="round"/>
<polyline points="348.90,489.70 346.20,489.70 346.20,486.00 336.10,486.00 336.10,488.80 333.50,488.80" stroke="#1a1a1a" stroke-width="1.0" fill="none" stroke-linejoin="round"/>
<line x1="348.50" y1="425.00" x2="348.50" y2="431.50" stroke="#1a1a1a" stroke-width="1.0"/>
<line x1="348.50" y1="483.00" x2="348.50" y2="489.70" stroke="#1a1a1a" stroke-width="1.0"/>
<rect x="347.79999999999995" y="440.5" width="4" height="33" fill="#888" stroke="#222" stroke-width="0.9"/>
<polyline points="279.30,437.30 306.90,437.90 333.50,437.30" stroke="#1a1a1a" stroke-width="1.4" fill="none" stroke-linejoin="round"/>
<polyline points="279.30,477.60 306.90,476.40 333.50,477.60" stroke="#1a1a1a" stroke-width="1.4" fill="none" stroke-linejoin="round"/>
<line x1="306.90" y1="437.90" x2="306.90" y2="476.40" stroke="#1a1a1a" stroke-width="2.2"/>
<circle cx="254.90" cy="457.00" r="2.10" stroke="#1a1a1a" stroke-width="0.9" fill="#fff"/>
<circle cx="254.90" cy="469.70" r="2.10" stroke="#1a1a1a" stroke-width="0.9" fill="#fff"/>
<circle cx="357.90" cy="444.30" r="2.10" stroke="#1a1a1a" stroke-width="0.9" fill="#fff"/>
<circle cx="357.90" cy="457.00" r="2.10" stroke="#1a1a1a" stroke-width="0.9" fill="#fff"/>
<text x="182.60" y="546.90" font-size="10.9" text-anchor="middle" fill="#222" font-weight="normal">Proposed solderpad design</text>
<line x1="181.50" y1="586.60" x2="181.50" y2="690.00" stroke="#666" stroke-width="0.8" stroke-dasharray="11 2.5 2 2.5"/>
<line x1="107.60" y1="616.50" x2="260.00" y2="616.50" stroke="#555" stroke-width="0.8" stroke-dasharray="11 2.5 2 2.5"/>
<line x1="107.60" y1="666.50" x2="260.00" y2="666.50" stroke="#555" stroke-width="0.8" stroke-dasharray="11 2.5 2 2.5"/>
<line x1="98.80" y1="641.50" x2="268.00" y2="641.50" stroke="#555" stroke-width="0.8" stroke-dasharray="11 2.5 2 2.5"/>
<path d="M120.6,622.4 V616.3 A16.8,15.7 0 0 1 137.4,600.6 V609.3 H155.7 V622.4 Z" stroke="#1a1a1a" stroke-width="1.3" fill="none" stroke-linejoin="round" />
<rect x="120.60" y="631.70" width="35.10" height="18.70" rx="0" stroke="#1a1a1a" stroke-width="1.3" fill="none"/>
<path d="M120.6,660.3 V666.6 A16.8,15.9 0 0 0 137.4,682.5 V673.1 H155.7 V660.3 Z" stroke="#1a1a1a" stroke-width="1.3" fill="none" stroke-linejoin="round" />
<path d="M243.9,622.4 V616.3 A16.4,15.7 0 0 0 227.5,600.6 V609.3 H208.8 V622.4 Z" stroke="#1a1a1a" stroke-width="1.3" fill="none" stroke-linejoin="round" />
<rect x="208.80" y="634.60" width="35.10" height="13.30" rx="0" stroke="#1a1a1a" stroke-width="1.3" fill="none"/>
<path d="M243.9,660.3 V666.6 A16.4,15.2 0 0 1 227.5,681.8 V673.1 H208.8 V660.3 Z" stroke="#1a1a1a" stroke-width="1.3" fill="none" stroke-linejoin="round" />
<line x1="120.50" y1="566.70" x2="120.50" y2="605.00" stroke="#2a2a2a" stroke-width="0.8"/>
<line x1="155.50" y1="566.70" x2="155.50" y2="605.00" stroke="#2a2a2a" stroke-width="0.8"/>
<line x1="120.60" y1="570.50" x2="155.70" y2="570.50" stroke="#2a2a2a" stroke-width="0.8"/>
<polygon points="120.60,570.90 127.60,568.20 127.60,573.60" fill="#111"/>
<polygon points="155.70,570.90 148.70,573.60 148.70,568.20" fill="#111"/>
<text x="137.40" y="566.70" font-size="10.8" text-anchor="middle" fill="#222" font-weight="normal">1.9</text>
<line x1="208.50" y1="566.70" x2="208.50" y2="605.00" stroke="#2a2a2a" stroke-width="0.8"/>
<line x1="227.50" y1="566.70" x2="227.50" y2="597.00" stroke="#2a2a2a" stroke-width="0.8"/>
<line x1="191.20" y1="570.50" x2="246.20" y2="570.50" stroke="#2a2a2a" stroke-width="0.8"/>
<polygon points="208.80,570.90 201.80,573.60 201.80,568.20" fill="#111"/>
<polygon points="227.50,570.90 234.50,568.20 234.50,573.60" fill="#111"/>
<text x="217.70" y="566.70" font-size="10.8" text-anchor="middle" fill="#222" font-weight="normal">1</text>
<line x1="158.50" y1="609.50" x2="176.00" y2="609.50" stroke="#2a2a2a" stroke-width="0.8"/>
<line x1="158.50" y1="622.50" x2="176.00" y2="622.50" stroke="#2a2a2a" stroke-width="0.8"/>
<line x1="172.50" y1="571.40" x2="172.50" y2="641.00" stroke="#2a2a2a" stroke-width="0.8"/>
<polygon points="172.00,609.30 169.30,602.30 174.70,602.30" fill="#111"/>
<polygon points="172.00,622.40 174.70,629.40 169.30,629.40" fill="#111"/>
<text x="169.50" y="578.50" font-size="10.8" text-anchor="middle" fill="#222" font-weight="normal" transform="rotate(-90 169.50 578.50)">0.7</text>
<line x1="155.50" y1="675.00" x2="155.50" y2="698.00" stroke="#2a2a2a" stroke-width="0.8"/>
<line x1="208.50" y1="675.00" x2="208.50" y2="698.00" stroke="#2a2a2a" stroke-width="0.8"/>
<line x1="155.70" y1="695.50" x2="208.80" y2="695.50" stroke="#2a2a2a" stroke-width="0.8"/>
<polygon points="155.70,695.40 162.70,692.70 162.70,698.10" fill="#111"/>
<polygon points="208.80,695.40 201.80,698.10 201.80,692.70" fill="#111"/>
<text x="181.90" y="693.00" font-size="10.8" text-anchor="middle" fill="#222" font-weight="normal">3</text>
<line x1="241.50" y1="608.80" x2="282.00" y2="585.40" stroke="#2a2a2a" stroke-width="0.8"/>
<polygon points="241.50,608.80 246.21,602.96 248.91,607.64" fill="#111"/>
<text x="255.00" y="599.20" font-size="10.8" text-anchor="start" fill="#222" font-weight="normal" transform="rotate(-30 255.00 599.20)" letter-spacing="1.2">R0.9</text>
<line x1="55.00" y1="615.50" x2="107.60" y2="615.50" stroke="#2a2a2a" stroke-width="0.8"/>
<line x1="55.00" y1="666.50" x2="107.60" y2="666.50" stroke="#2a2a2a" stroke-width="0.8"/>
<line x1="59.00" y1="641.50" x2="98.80" y2="641.50" stroke="#222" stroke-width="1.0"/>
<line x1="55.50" y1="615.70" x2="55.50" y2="666.40" stroke="#2a2a2a" stroke-width="0.8"/>
<polygon points="55.00,615.70 57.70,622.70 52.30,622.70" fill="#111"/>
<polygon points="55.00,666.40 52.30,659.40 57.70,659.40" fill="#111"/>
<circle cx="55.00" cy="641.40" r="3.80" stroke="#1a1a1a" stroke-width="1.0" fill="#fff"/>
<line x1="51.20" y1="641.50" x2="58.80" y2="641.50" stroke="#1a1a1a" stroke-width="0.8"/>
<line x1="55.50" y1="637.60" x2="55.50" y2="645.20" stroke="#1a1a1a" stroke-width="0.8"/>
<text x="45.70" y="618.90" font-size="10.8" text-anchor="end" fill="#222" font-weight="normal">1.4</text>
<text x="46.50" y="645.50" font-size="10.8" text-anchor="end" fill="#222" font-weight="normal">0</text>
<text x="45.70" y="669.60" font-size="10.8" text-anchor="end" fill="#222" font-weight="normal">1.4</text>
<line x1="81.90" y1="632.50" x2="118.00" y2="632.50" stroke="#2a2a2a" stroke-width="0.8"/>
<line x1="81.90" y1="650.50" x2="118.00" y2="650.50" stroke="#2a2a2a" stroke-width="0.8"/>
<line x1="85.50" y1="614.00" x2="85.50" y2="689.70" stroke="#2a2a2a" stroke-width="0.8"/>
<polygon points="85.90,632.10 83.20,625.10 88.60,625.10" fill="#111"/>
<polygon points="85.90,650.30 88.60,657.30 83.20,657.30" fill="#111"/>
<text x="82.50" y="686.50" font-size="10.8" text-anchor="middle" fill="#222" font-weight="normal" transform="rotate(-90 82.50 686.50)">1</text>
<line x1="100.00" y1="631.50" x2="117.50" y2="631.50" stroke="#2a2a2a" stroke-width="0.8"/>
<line x1="100.00" y1="650.50" x2="117.50" y2="650.50" stroke="#2a2a2a" stroke-width="0.8"/>
<line x1="247.30" y1="634.50" x2="296.00" y2="634.50" stroke="#2a2a2a" stroke-width="0.8"/>
<line x1="247.30" y1="647.50" x2="296.00" y2="647.50" stroke="#2a2a2a" stroke-width="0.8"/>
<line x1="247.30" y1="659.50" x2="288.20" y2="659.50" stroke="#2a2a2a" stroke-width="0.8"/>
<line x1="229.80" y1="681.50" x2="288.20" y2="681.50" stroke="#2a2a2a" stroke-width="0.8"/>
<line x1="311.50" y1="617.00" x2="311.50" y2="665.90" stroke="#2a2a2a" stroke-width="0.8"/>
<polygon points="311.80,634.70 309.10,627.70 314.50,627.70" fill="#111"/>
<polygon points="311.80,647.70 314.50,654.70 309.10,654.70" fill="#111"/>
<line x1="296.00" y1="634.50" x2="320.00" y2="634.50" stroke="#2a2a2a" stroke-width="0.8"/>
<line x1="296.00" y1="647.50" x2="320.00" y2="647.50" stroke="#2a2a2a" stroke-width="0.8"/>
<text x="307.50" y="641.50" font-size="10.8" text-anchor="middle" fill="#222" font-weight="normal" transform="rotate(-90 307.50 641.50)">0.7</text>
<line x1="284.50" y1="642.30" x2="284.50" y2="700.00" stroke="#2a2a2a" stroke-width="0.8"/>
<polygon points="284.20,659.80 281.50,652.80 286.90,652.80" fill="#111"/>
<polygon points="284.20,681.80 286.90,688.80 281.50,688.80" fill="#111"/>
<text x="280.50" y="670.70" font-size="10.8" text-anchor="middle" fill="#222" font-weight="normal" transform="rotate(-90 280.50 670.70)">1.2</text>
<text x="476.40" y="472.20" font-size="10.8" text-anchor="start" fill="#222" font-weight="normal">Detector side</text>
<path d="M541.5,470.5 H552.5 C560,470.5 570,465.5 586,461.5" stroke="#2a2a2a" stroke-width="0.9" fill="none" stroke-linejoin="round" />
<polygon points="589.50,460.50 583.49,464.99 582.03,459.79" fill="#111"/>
<polyline points="562.00,503.00 562.00,455.50 574.00,447.50 627.20,476.70 627.20,545.00 611.50,551.50 608.50,548.00 608.50,479.80 562.00,455.50" stroke="#1a1a1a" stroke-width="1.3" fill="none" stroke-linejoin="round"/>
<line x1="565.50" y1="457.30" x2="565.50" y2="503.00" stroke="#1a1a1a" stroke-width="0.8"/>
<line x1="577.70" y1="451.20" x2="625.70" y2="477.50" stroke="#1a1a1a" stroke-width="0.8"/>
<polyline points="610.70,548.50 610.70,479.00 627.20,476.70" stroke="#1a1a1a" stroke-width="0.9" fill="none" stroke-linejoin="round"/>
<line x1="623.50" y1="483.50" x2="623.50" y2="543.50" stroke="#555" stroke-width="1.4"/>
<line x1="627.20" y1="477.00" x2="627.20" y2="545.00" stroke="#1a1a1a" stroke-width="1.6"/>
<polygon points="579.20,470.80 583.70,473.10 583.70,488.00 579.20,485.80" stroke="#1a1a1a" stroke-width="1.3" fill="#888" stroke-linejoin="round"/>
<polygon points="589.70,476.70 594.20,479.00 594.20,493.90 589.70,491.70" stroke="#1a1a1a" stroke-width="1.3" fill="#888" stroke-linejoin="round"/>
<polyline points="507.60,488.00 510.00,484.00 523.40,478.00 528.00,478.60 571.70,505.00 560.40,514.00 507.60,488.00" stroke="#1a1a1a" stroke-width="1.3" fill="none" stroke-linejoin="round"/>
<polyline points="507.60,488.00 507.60,557.30" stroke="#1a1a1a" stroke-width="1.6" fill="none" stroke-linejoin="round"/>
<polyline points="560.40,588.00 560.40,514.00" stroke="#1a1a1a" stroke-width="1.8" fill="none" stroke-linejoin="round"/>
<polyline points="571.70,505.00 573.10,506.30 573.10,572.50" stroke="#1a1a1a" stroke-width="1.3" fill="none" stroke-linejoin="round"/>
<line x1="511.50" y1="491.50" x2="511.50" y2="558.00" stroke="#1a1a1a" stroke-width="0.8"/>
<line x1="562.50" y1="513.00" x2="562.50" y2="586.00" stroke="#1a1a1a" stroke-width="0.8"/>
<line x1="525.10" y1="490.30" x2="549.10" y2="503.70" stroke="#555" stroke-width="3.0"/>
<line x1="510.00" y1="491.00" x2="560.00" y2="516.50" stroke="#1a1a1a" stroke-width="0.8"/>
<rect x="520.50" y="487.50" width="4.00" height="2.50" rx="0" stroke="#1a1a1a" stroke-width="0.8" fill="none"/>
<rect x="550.00" y="504.00" width="4.00" height="2.50" rx="0" stroke="#1a1a1a" stroke-width="0.8" fill="none"/>
<polygon points="511.70,497.70 528.90,507.00 528.90,541.40 511.70,532.00" stroke="#1a1a1a" stroke-width="1.3" fill="none" stroke-linejoin="round"/>
<polygon points="536.70,511.70 552.30,520.30 552.30,555.50 536.70,547.70" stroke="#1a1a1a" stroke-width="1.3" fill="none" stroke-linejoin="round"/>
<circle cx="532.00" cy="521.10" r="2.60" stroke="#1a1a1a" stroke-width="0.9" fill="none"/>
<polyline points="518.80,562.00 518.80,540.60 528.90,545.30 528.90,565.60" stroke="#1a1a1a" stroke-width="1.0" fill="none" stroke-linejoin="round"/>
<line x1="521.30" y1="543.00" x2="521.30" y2="563.00" stroke="#666" stroke-width="1.6"/>
<polyline points="536.70,570.00 536.70,550.80 546.10,555.50 546.10,575.00" stroke="#1a1a1a" stroke-width="1.0" fill="none" stroke-linejoin="round"/>
<line x1="539.20" y1="553.00" x2="539.20" y2="571.00" stroke="#666" stroke-width="1.6"/>
<circle cx="542.20" cy="569.50" r="2.30" stroke="#1a1a1a" stroke-width="0.9" fill="none"/>
<polyline points="507.60,557.30 511.70,560.20 511.70,565.00 559.40,591.50 560.40,594.10" stroke="#1a1a1a" stroke-width="1.3" fill="none" stroke-linejoin="round"/>
<polyline points="507.60,557.30 559.40,585.00 560.40,588.00" stroke="#1a1a1a" stroke-width="0.9" fill="none" stroke-linejoin="round"/>
<polygon points="512.50,561.00 512.50,565.50 519.50,569.30 519.50,564.80" stroke="#1a1a1a" stroke-width="1.0" fill="#eee" stroke-linejoin="round"/>
<polygon points="523.00,566.70 523.00,571.20 530.00,575.00 530.00,570.50" stroke="#1a1a1a" stroke-width="1.0" fill="#eee" stroke-linejoin="round"/>
<polygon points="537.00,574.20 537.00,578.70 544.00,582.50 544.00,578.00" stroke="#1a1a1a" stroke-width="1.0" fill="#eee" stroke-linejoin="round"/>
<polygon points="549.00,580.80 549.00,585.30 556.00,589.10 556.00,584.60" stroke="#1a1a1a" stroke-width="1.0" fill="#eee" stroke-linejoin="round"/>
<polyline points="573.10,506.30 602.50,521.90 602.50,541.30" stroke="#1a1a1a" stroke-width="1.3" fill="none" stroke-linejoin="round"/>
<line x1="573.80" y1="522.50" x2="600.00" y2="536.30" stroke="#1a1a1a" stroke-width="0.9"/>
<line x1="573.80" y1="530.00" x2="600.60" y2="543.10" stroke="#1a1a1a" stroke-width="0.9"/>
<circle cx="578.80" cy="518.30" r="4.40" stroke="#1a1a1a" stroke-width="1.0" fill="none"/>
<circle cx="595.00" cy="526.60" r="4.40" stroke="#1a1a1a" stroke-width="1.0" fill="none"/>
<polyline points="573.80,556.90 596.30,543.80 611.30,548.80" stroke="#1a1a1a" stroke-width="1.4" fill="none" stroke-linejoin="round"/>
<line x1="573.80" y1="568.10" x2="608.80" y2="550.00" stroke="#1a1a1a" stroke-width="1.3"/>
<polyline points="571.30,573.80 572.50,577.50 560.00,585.00" stroke="#1a1a1a" stroke-width="0.9" fill="none" stroke-linejoin="round"/>
<polyline points="560.40,588.00 562.50,593.80 623.80,560.00 622.50,550.00 611.30,555.00 611.30,548.80" stroke="#1a1a1a" stroke-width="1.3" fill="none" stroke-linejoin="round"/>
<line x1="560.00" y1="586.30" x2="622.00" y2="553.00" stroke="#1a1a1a" stroke-width="0.8"/>
<polyline points="507.00,608.30 518.40,608.30 518.40,524.00" stroke="#2a2a2a" stroke-width="0.9" fill="none" stroke-linejoin="round"/>
<polygon points="518.40,517.00 521.10,524.00 515.70,524.00" fill="#111"/>
<text x="442.90" y="610.80" font-size="10.8" text-anchor="start" fill="#222" font-weight="normal">Marking area</text>
<polyline points="603.50,593.60 594.30,593.60 594.30,530.00" stroke="#2a2a2a" stroke-width="0.9" fill="none" stroke-linejoin="round"/>
<polygon points="594.30,523.50 597.00,530.50 591.60,530.50" fill="#111"/>
<text x="605.00" y="597.00" font-size="10.8" text-anchor="start" fill="#222" font-weight="normal">Ejector marks</text>
<polyline points="392.90,703.00 392.90,662.50 394.60,659.00 405.20,650.80 406.20,650.60 468.30,684.80 468.30,689.10 454.60,694.70 394.60,660.20" stroke="#1a1a1a" stroke-width="1.3" fill="none" stroke-linejoin="round"/>
<line x1="394.60" y1="663.70" x2="449.70" y2="693.50" stroke="#333" stroke-width="1.6"/>
<line x1="408.00" y1="653.50" x2="466.50" y2="685.50" stroke="#444" stroke-width="1.0"/>
<line x1="454.50" y1="694.70" x2="454.50" y2="698.00" stroke="#1a1a1a" stroke-width="1.3"/>
<polygon points="398.20,682.40 410.40,689.40 410.40,694.10 398.20,687.70" stroke="#1a1a1a" stroke-width="1.2" fill="none" stroke-linejoin="round"/>
<line x1="399.20" y1="684.90" x2="409.50" y2="691.40" stroke="#666" stroke-width="1.2"/>
<polygon points="398.20,694.10 410.40,701.10 410.40,705.80 398.20,699.40" stroke="#1a1a1a" stroke-width="1.2" fill="none" stroke-linejoin="round"/>
<line x1="399.20" y1="696.60" x2="409.50" y2="703.10" stroke="#666" stroke-width="1.2"/>
<polyline points="430.80,702.00 430.80,691.50 435.10,693.80 435.10,699.60" stroke="#1a1a1a" stroke-width="1.1" fill="none" stroke-linejoin="round"/>
<line x1="432.50" y1="693.00" x2="432.50" y2="701.00" stroke="#1a1a1a" stroke-width="0.8"/>
<polyline points="392.90,703.00 411.70,713.90 449.10,692.90 449.10,691.10" stroke="#1a1a1a" stroke-width="1.3" fill="none" stroke-linejoin="round"/>
<polyline points="340.80,691.50 342.90,687.20 355.10,681.40 409.80,712.40" stroke="#1a1a1a" stroke-width="1.3" fill="none" stroke-linejoin="round"/>
<polyline points="340.80,691.50 401.90,723.10 412.40,716.00" stroke="#1a1a1a" stroke-width="1.3" fill="none" stroke-linejoin="round"/>
<line x1="343.60" y1="690.00" x2="401.20" y2="721.70" stroke="#333" stroke-width="2.0"/>
<polyline points="340.80,691.50 340.80,749.00 402.60,782.10" stroke="#1a1a1a" stroke-width="1.3" fill="none" stroke-linejoin="round"/>
<line x1="401.50" y1="723.10" x2="401.50" y2="782.00" stroke="#1a1a1a" stroke-width="1.3"/>
<polygon points="345.80,701.60 375.30,716.70 375.30,735.40 345.80,719.60" stroke="#1a1a1a" stroke-width="1.3" fill="none" stroke-linejoin="round"/>
<polygon points="345.80,729.60 375.30,745.40 375.30,763.40 345.80,746.90" stroke="#1a1a1a" stroke-width="1.3" fill="none" stroke-linejoin="round"/>
<circle cx="355.90" cy="728.90" r="2.80" stroke="#1a1a1a" stroke-width="0.9" fill="none"/>
<path d="M381,727.3 L399.7,737.5 V747.6 L381,737.4 Q378.9,736.3 378.9,734 V729.5 Q378.9,726.6 381,727.3 Z" stroke="#1a1a1a" stroke-width="1.3" fill="none" stroke-linejoin="round" />
<line x1="381.50" y1="733.50" x2="399.00" y2="743.00" stroke="#666" stroke-width="1.6"/>
<path d="M381,748.3 L399.7,758.5 V768.6 L381,758.4 Q378.9,757.3 378.9,755 V750.5 Q378.9,747.6 381,748.3 Z" stroke="#1a1a1a" stroke-width="1.3" fill="none" stroke-linejoin="round" />
<line x1="381.50" y1="754.50" x2="399.00" y2="764.00" stroke="#666" stroke-width="1.6"/>
<circle cx="394.00" cy="740.40" r="2.00" stroke="#1a1a1a" stroke-width="0.9" fill="none"/>
<path d="M403.5,725.5 q0,-2 2,-1.5 l5.5,1.8 q1.5,0.5 1.5,2 v7 q0,2 -2,1.5 l-5.5,-1.8 q-1.5,-0.5 -1.5,-2 z" stroke="#1a1a1a" stroke-width="1.2" fill="none" stroke-linejoin="round" />
<polyline points="402.50,737.50 406.50,739.00 406.50,742.50" stroke="#1a1a1a" stroke-width="0.9" fill="none" stroke-linejoin="round"/>
<path d="M403.5,746.0 q0,-2 2,-1.5 l5.5,1.8 q1.5,0.5 1.5,2 v7 q0,2 -2,1.5 l-5.5,-1.8 q-1.5,-0.5 -1.5,-2 z" stroke="#1a1a1a" stroke-width="1.2" fill="none" stroke-linejoin="round" />
<polyline points="402.50,758.00 406.50,759.50 406.50,763.00" stroke="#1a1a1a" stroke-width="0.9" fill="none" stroke-linejoin="round"/>
<path d="M403.5,766.5 q0,-2 2,-1.5 l5.5,1.8 q1.5,0.5 1.5,2 v7 q0,2 -2,1.5 l-5.5,-1.8 q-1.5,-0.5 -1.5,-2 z" stroke="#1a1a1a" stroke-width="1.2" fill="none" stroke-linejoin="round" />
<polyline points="402.50,778.50 406.50,780.00 406.50,783.50" stroke="#1a1a1a" stroke-width="0.9" fill="none" stroke-linejoin="round"/>
<line x1="404.50" y1="725.00" x2="404.50" y2="783.00" stroke="#1a1a1a" stroke-width="0.8"/>
<polyline points="411.70,713.90 407.00,719.80 413.50,726.00" stroke="#1a1a1a" stroke-width="1.3" fill="none" stroke-linejoin="round"/>
<polyline points="413.50,726.00 474.50,692.50 474.50,750.40 413.70,786.40 413.50,726.00" stroke="#1a1a1a" stroke-width="1.3" fill="none" stroke-linejoin="round"/>
<polyline points="455.00,694.60 473.70,689.50 474.50,692.50" stroke="#1a1a1a" stroke-width="1.3" fill="none" stroke-linejoin="round"/>
<line x1="415.20" y1="723.30" x2="472.50" y2="691.50" stroke="#444" stroke-width="1.6"/>
<circle cx="436.70" cy="714.50" r="1.20" stroke="#1a1a1a" stroke-width="0" fill="#222"/>
<circle cx="451.80" cy="705.90" r="1.20" stroke="#1a1a1a" stroke-width="0" fill="#222"/>
<circle cx="436.70" cy="772.00" r="1.20" stroke="#1a1a1a" stroke-width="0" fill="#222"/>
<circle cx="451.80" cy="763.40" r="1.20" stroke="#1a1a1a" stroke-width="0" fill="#222"/>
<g transform="matrix(0.61 -0.335 0 0.8368 257.34 776.2)" fill="none" stroke="#111">
<rect x="258" y="47.6" width="18" height="10.799999999999997" stroke-width="1.2" vector-effect="non-scaling-stroke"/>
<rect x="258" y="71.6" width="18" height="13.200000000000003" stroke-width="1.2" vector-effect="non-scaling-stroke"/>
<rect x="258" y="97.5" width="18" height="11.299999999999997" stroke-width="1.2" vector-effect="non-scaling-stroke"/>
<rect x="336" y="46.6" width="18" height="11.0" stroke-width="1.2" vector-effect="non-scaling-stroke"/>
<rect x="336" y="71.8" width="18" height="12.0" stroke-width="1.2" vector-effect="non-scaling-stroke"/>
<rect x="336" y="96.5" width="18" height="11.5" stroke-width="1.2" vector-effect="non-scaling-stroke"/>
<path d="M301.1,57.4 Q301.1,53.4 306.15,53.4 Q311.2,53.4 311.2,57.4 V71 Q312,74 316,74 H322.4 Q326.4,74 326.4,78.9 Q326.4,83.8 322.4,83.8 H316 Q312,83.8 311.2,87 V99.6 Q311.2,103.6 306.15,103.6 Q301.1,103.6 301.1,99.6 V87 Q300.3,83.8 296,83.8 H289.9 Q285.9,83.8 285.9,78.9 Q285.9,74 289.9,74 H296 Q300.3,74 301.1,71 Z" stroke-width="2.4" vector-effect="non-scaling-stroke"/>
<path d="M303.5,58 V69 M308.8,58 V69 M303.5,89 V100 M308.8,89 V100 M289,76.5 H298 M289,81.3 H298 M314,76.5 H323.5 M314,81.3 H323.5" stroke-width="0.8" vector-effect="non-scaling-stroke"/>
<path d="M301.5,72 L311,86 M311,72 L301.5,86" stroke-width="1.1" vector-effect="non-scaling-stroke"/>
<polygon points="288,57.6 288.2,66.2 297,66" stroke-width="2.4" stroke-linejoin="round" vector-effect="non-scaling-stroke"/>
<polygon points="324.2,57.6 324,66.2 315.2,66" stroke-width="2.4" stroke-linejoin="round" vector-effect="non-scaling-stroke"/>
<polygon points="288,100.2 288.2,91 297,91.2" stroke-width="2.4" stroke-linejoin="round" vector-effect="non-scaling-stroke"/>
<polygon points="324.2,100.2 324,91 315.2,91.2" stroke-width="2.4" stroke-linejoin="round" vector-effect="non-scaling-stroke"/>
</g>
<text x="554.80" y="629.80" font-size="10.8" text-anchor="start" fill="#222" font-weight="normal">Emitter side</text>
<polyline points="553.50,626.50 544.00,626.50 537.00,652.00" stroke="#2a2a2a" stroke-width="0.9" fill="none" stroke-linejoin="round"/>
<polygon points="535.50,657.50 534.72,650.04 539.93,651.45" fill="#111"/>
<polyline points="504.00,735.00 504.00,663.80 507.00,660.80 552.00,636.00 557.30,635.30 568.50,642.80 520.50,666.00 504.00,663.80" stroke="#1a1a1a" stroke-width="1.3" fill="none" stroke-linejoin="round"/>
<line x1="507.50" y1="664.50" x2="507.50" y2="735.00" stroke="#444" stroke-width="1.3"/>
<line x1="504.00" y1="664.00" x2="504.00" y2="735.00" stroke="#1a1a1a" stroke-width="1.6"/>
<line x1="520.50" y1="666.00" x2="520.50" y2="741.00" stroke="#1a1a1a" stroke-width="1.6"/>
<line x1="522.50" y1="668.00" x2="522.50" y2="741.00" stroke="#1a1a1a" stroke-width="0.8"/>
<line x1="568.50" y1="642.80" x2="568.50" y2="690.00" stroke="#1a1a1a" stroke-width="1.3"/>
<line x1="522.00" y1="667.50" x2="568.50" y2="645.00" stroke="#1a1a1a" stroke-width="0.8"/>
<line x1="510.00" y1="661.00" x2="555.00" y2="637.50" stroke="#444" stroke-width="1.6"/>
<polygon points="533.30,668.00 555.30,656.00 555.30,675.50 533.30,687.50" stroke="#1a1a1a" stroke-width="1.6" fill="none" stroke-linejoin="round"/>
<line x1="534.50" y1="685.50" x2="554.50" y2="674.50" stroke="#222" stroke-width="2.2"/>
<line x1="552.50" y1="660.00" x2="552.50" y2="674.00" stroke="#222" stroke-width="1.6"/>
<path d="M535,673 q2,-2 4,0 q1,3 3,1 l2,-4 q2,-3 4,-1 q2,2 4,0 M536,677 q1,-2 3,-1 l0,4 q2,2 5,0 l4,-3 q2,-2 3,-4 M543,668 q3,-2 5,1 q1,3 3,2" stroke="#111" stroke-width="1.5" fill="none" stroke-linejoin="round" />
<polyline points="529.30,727.50 529.30,708.80 558.00,693.80" stroke="#1a1a1a" stroke-width="1.3" fill="none" stroke-linejoin="round"/>
<line x1="530.50" y1="711.90" x2="558.00" y2="697.50" stroke="#1a1a1a" stroke-width="0.9"/>
<line x1="531.00" y1="722.50" x2="556.80" y2="710.60" stroke="#1a1a1a" stroke-width="0.9"/>
<circle cx="536.10" cy="715.00" r="4.30" stroke="#1a1a1a" stroke-width="1.1" fill="none"/>
<circle cx="551.80" cy="706.30" r="4.30" stroke="#1a1a1a" stroke-width="1.1" fill="none"/>
<line x1="529.30" y1="728.80" x2="556.80" y2="715.00" stroke="#1a1a1a" stroke-width="1.3"/>
<line x1="535.50" y1="730.00" x2="556.80" y2="742.50" stroke="#1a1a1a" stroke-width="1.3"/>
<polyline points="523.60,736.30 556.80,755.00 558.00,752.00" stroke="#1a1a1a" stroke-width="1.3" fill="none" stroke-linejoin="round"/>
<line x1="523.00" y1="733.00" x2="529.30" y2="728.80" stroke="#1a1a1a" stroke-width="0.9"/>
<polyline points="504.50,735.00 519.30,742.50 520.50,741.00" stroke="#1a1a1a" stroke-width="1.3" fill="none" stroke-linejoin="round"/>
<polyline points="508.00,738.80 506.80,746.30 568.00,781.30" stroke="#1a1a1a" stroke-width="1.3" fill="none" stroke-linejoin="round"/>
<line x1="508.60" y1="748.80" x2="566.00" y2="781.00" stroke="#1a1a1a" stroke-width="0.8"/>
<line x1="509.00" y1="750.50" x2="560.00" y2="779.50" stroke="#555" stroke-width="1.4"/>
<polyline points="559.00,764.00 559.00,693.30 562.20,689.30 603.70,666.50 607.70,665.70 621.50,673.00 621.50,747.80" stroke="#1a1a1a" stroke-width="1.3" fill="none" stroke-linejoin="round"/>
<polyline points="559.00,693.30 570.30,699.80 621.50,673.80" stroke="#1a1a1a" stroke-width="1.3" fill="none" stroke-linejoin="round"/>
<line x1="572.00" y1="702.00" x2="621.50" y2="676.20" stroke="#1a1a1a" stroke-width="0.8"/>
<line x1="562.50" y1="698.00" x2="562.50" y2="763.00" stroke="#444" stroke-width="1.2"/>
<line x1="559.00" y1="693.30" x2="559.00" y2="764.00" stroke="#1a1a1a" stroke-width="1.6"/>
<line x1="580.00" y1="692.50" x2="605.30" y2="677.90" stroke="#555" stroke-width="3.0"/>
<polygon points="576.00,692.50 581.00,690.00 582.00,692.50 577.00,695.00" stroke="#1a1a1a" stroke-width="0.8" fill="none" stroke-linejoin="round"/>
<polygon points="605.00,677.00 610.00,674.50 611.00,677.00 606.00,679.50" stroke="#1a1a1a" stroke-width="0.8" fill="none" stroke-linejoin="round"/>
<polygon points="579.30,707.20 593.90,699.00 593.90,733.20 579.30,741.30" stroke="#1a1a1a" stroke-width="1.3" fill="none" stroke-linejoin="round"/>
<polygon points="602.80,694.10 617.50,686.00 617.50,721.80 602.80,728.30" stroke="#1a1a1a" stroke-width="1.3" fill="none" stroke-linejoin="round"/>
<circle cx="598.80" cy="708.00" r="2.90" stroke="#1a1a1a" stroke-width="0.9" fill="none"/>
<path d="M584.6,761 V746 Q584.6,743.5 587,742.3 L592,739.5 Q594.5,738.3 594.5,741 V759" stroke="#1a1a1a" stroke-width="1.1" fill="none" stroke-linejoin="round" />
<line x1="592.30" y1="741.00" x2="592.30" y2="759.00" stroke="#888" stroke-width="2.0"/>
<path d="M602.2,751.2 V735 Q602.2,732.5 604.6,731.3 L609.6,728.3 Q612,727 612,729.5 V749" stroke="#1a1a1a" stroke-width="1.1" fill="none" stroke-linejoin="round" />
<line x1="609.80" y1="730.00" x2="609.80" y2="749.00" stroke="#888" stroke-width="2.0"/>
<circle cx="606.50" cy="746.30" r="2.30" stroke="#1a1a1a" stroke-width="0.9" fill="none"/>
<polyline points="571.40,770.90 584.60,764.00 602.20,754.50 621.50,743.50" stroke="#1a1a1a" stroke-width="1.0" fill="none" stroke-linejoin="round"/>
<path d="M572,771 v4 q0,2.5 2.5,1.5 l5.5,-3 q2,-1.2 2,-3.5 v-4" stroke="#1a1a1a" stroke-width="1.0" fill="none" stroke-linejoin="round" />
<path d="M589.5,761.5 v4 q0,2.5 2.5,1.5 l5.5,-3 q2,-1.2 2,-3.5 v-4" stroke="#1a1a1a" stroke-width="1.0" fill="none" stroke-linejoin="round" />
<path d="M608,751.5 v4 q0,2.5 2.5,1.5 l5.5,-3 q2,-1.2 2,-3.5 v-4" stroke="#1a1a1a" stroke-width="1.0" fill="none" stroke-linejoin="round" />
<polyline points="569.30,780.80 571.40,779.50 619.70,751.50 619.70,747.90" stroke="#1a1a1a" stroke-width="1.1" fill="none" stroke-linejoin="round"/>
<polyline points="559.00,764.00 569.30,772.00 569.30,780.80" stroke="#1a1a1a" stroke-width="1.3" fill="none" stroke-linejoin="round"/>
<line x1="569.30" y1="700.00" x2="569.30" y2="780.80" stroke="#222" stroke-width="1.6"/>
<text x="21.50" y="776.50" font-size="19" text-anchor="start" fill="#000" font-weight="bold">Dimensions in mm</text>
</svg></body></html>
